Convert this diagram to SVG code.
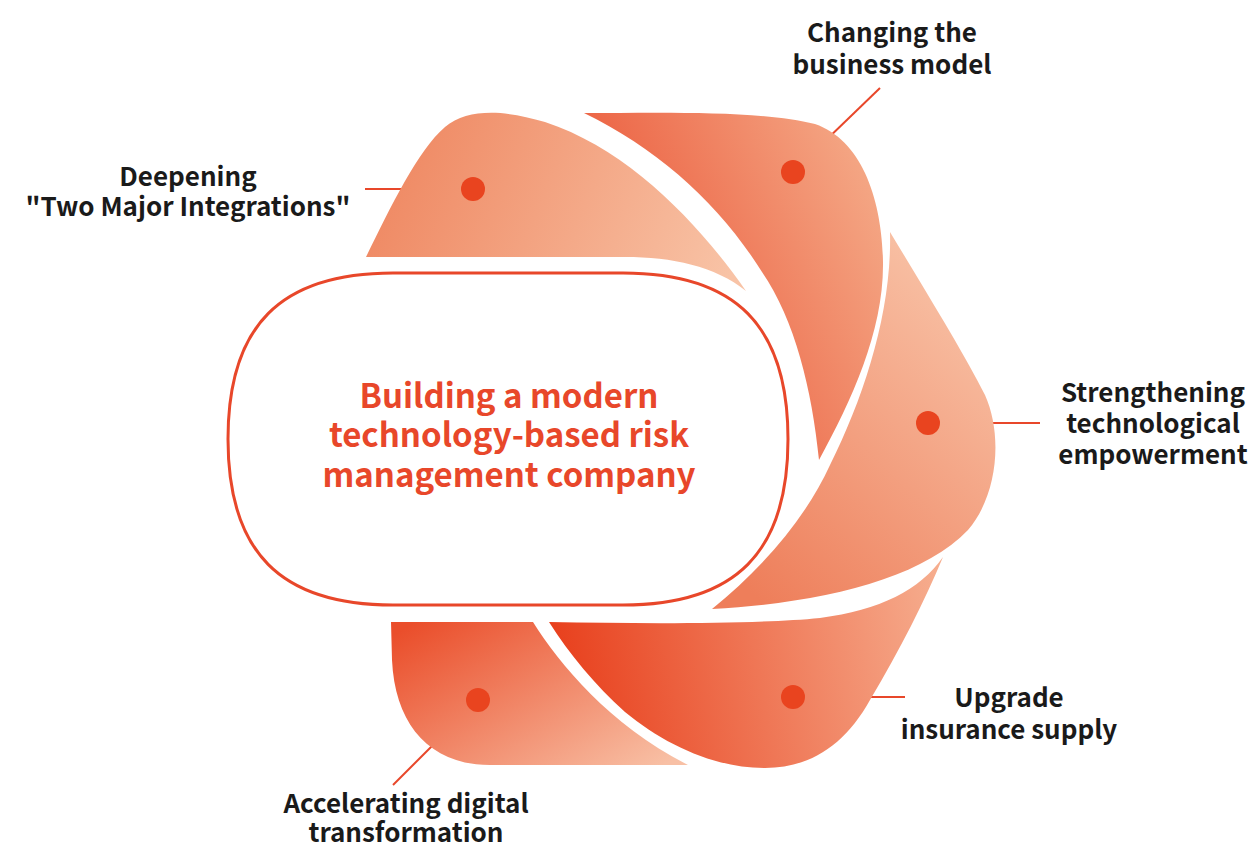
<svg xmlns="http://www.w3.org/2000/svg" width="1252" height="848" viewBox="0 0 1252 848">
<style>
.lbl{font-family:"Noto Sans CJK SC","Noto Sans",sans-serif;font-weight:bold;font-size:26px;fill:#1a1a1a;text-anchor:middle}
.ctr{font-family:"Noto Sans CJK SC","Noto Sans",sans-serif;font-weight:bold;font-size:33px;fill:#e8472a;text-anchor:middle}
.lead{stroke:#e8472a;stroke-width:2;fill:none}
.dot{fill:#e9441f}
</style>
<defs>
<linearGradient id="g1" x1="0" y1="0.5" x2="1" y2="0.7"><stop offset="0" stop-color="#ef8862"/><stop offset="1" stop-color="#f8c3a6"/></linearGradient>
<linearGradient id="g2" x1="0" y1="0.8" x2="1" y2="0.3"><stop offset="0" stop-color="#e9482a"/><stop offset="1" stop-color="#f4a583"/></linearGradient>
<linearGradient id="g3" x1="0.2" y1="1" x2="0.9" y2="0"><stop offset="0" stop-color="#ee7e5a"/><stop offset="1" stop-color="#f9c8ad"/></linearGradient>
<linearGradient id="g4" x1="0" y1="0.3" x2="1" y2="0.2"><stop offset="0" stop-color="#e8401d"/><stop offset="1" stop-color="#f6ad8e"/></linearGradient>
<linearGradient id="g5" x1="0" y1="0.1" x2="1" y2="0.9"><stop offset="0" stop-color="#ea4e2b"/><stop offset="1" stop-color="#f8c0a5"/></linearGradient>
</defs>
<g id="center">
<path d="M 393,273 H 623 C 736,273 788,326 788,439 C 788,552 736,605 623,605 H 393 C 280,605 228,552 228,439 C 228,326 280,273 393,273 Z" fill="#fff" stroke="#e8472a" stroke-width="3"/>
<text class="ctr" x="509" y="408">Building a modern</text>
<text class="ctr" x="509" y="447">technology-based risk</text>
<text class="ctr" x="509" y="487">management company</text>
</g>
<g id="connectors">
<line class="lead" x1="365" y1="189" x2="473" y2="189"/>
<line class="lead" x1="793" y1="172" x2="880" y2="88"/>
<line class="lead" x1="928" y1="423" x2="1040" y2="423"/>
<line class="lead" x1="793" y1="697" x2="905" y2="697"/>
<line class="lead" x1="478" y1="700" x2="393" y2="785"/>
</g>
<g id="deepening">
<path d="M 366,257 C 390,208 418,150 445,127 C 468,108 505,110 545,122 C 630,150 700,225 746,291 C 715,266 672,257 625,257 Z" fill="url(#g1)"/>
<circle class="dot" cx="473" cy="189" r="12"/>
<text class="lbl" x="188" y="186">Deepening</text>
<text class="lbl" x="188" y="216">"Two Major Integrations"</text>
</g>
<g id="changing">
<path d="M 584,113 C 660,113 760,110 815,124 C 862,140 882,200 883,262 C 884,330 852,400 819,460 C 812,390 795,320 762,272 C 720,205 660,150 584,113 Z" fill="url(#g2)"/>
<circle class="dot" cx="793" cy="172" r="12"/>
<text class="lbl" x="892" y="42">Changing the</text>
<text class="lbl" x="892" y="74">business model</text>
</g>
<g id="strengthening">
<path d="M 890,232 C 925,290 965,355 985,395 C 1003,435 998,495 968,530 C 920,580 820,603 712,609 C 760,570 805,520 830,465 C 865,395 892,310 890,232 Z" fill="url(#g3)"/>
<circle class="dot" cx="928" cy="423" r="12"/>
<text class="lbl" x="1153" y="402">Strengthening</text>
<text class="lbl" x="1153" y="433">technological</text>
<text class="lbl" x="1153" y="464">empowerment</text>
</g>
<g id="upgrade">
<path d="M 549,622 C 650,624 760,624 820,618 C 880,610 920,590 943,557 C 925,600 900,650 870,700 C 845,745 810,768 765,768 C 715,768 665,745 625,712 C 595,685 570,655 549,622 Z" fill="url(#g4)"/>
<circle class="dot" cx="793" cy="697" r="12"/>
<text class="lbl" x="1009" y="707">Upgrade</text>
<text class="lbl" x="1009" y="739">insurance supply</text>
</g>
<g id="accelerating">
<path d="M 391,622 L 533,622 C 560,665 610,725 688,765 L 490,765 C 430,765 395,725 392,660 Z" fill="url(#g5)"/>
<circle class="dot" cx="478" cy="700" r="12"/>
<text class="lbl" x="406" y="813">Accelerating digital</text>
<text class="lbl" x="406" y="842">transformation</text>
</g>
</svg>
